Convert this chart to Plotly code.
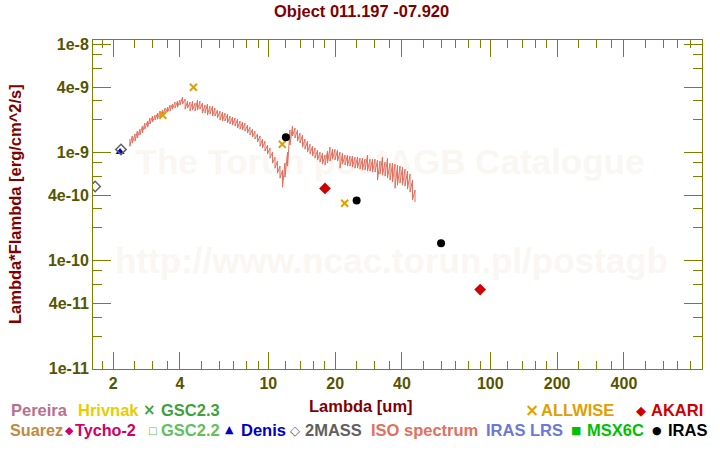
import plotly.graph_objects as go

# ---------------- data ----------------
iso_wavelength = [2.38, 2.44, 2.51, 2.57, 2.64, 2.71, 2.78, 2.86, 2.93, 3.01,
                  3.09, 3.17, 3.25, 3.34, 3.43, 3.52, 3.61, 3.70, 3.80, 3.90,
                  4.00, 4.11, 4.22, 4.33, 4.44, 4.56, 4.68, 4.80, 4.92, 5.05,
                  5.19, 5.32, 5.46, 5.61, 5.75, 5.90, 6.06, 6.22, 6.38, 6.55,
                  6.72, 6.90, 7.08, 7.27, 7.46, 7.65, 7.85, 8.06, 8.27, 8.49,
                  8.71, 8.94, 9.18, 9.42, 9.66, 9.92, 10.18, 10.45, 10.72, 11.00,
                  11.29, 11.59, 11.89, 12.21, 12.52, 12.85, 13.19, 13.54, 13.89, 14.26,
                  14.63, 15.02, 15.41, 15.82, 16.23, 16.66, 17.10, 17.55, 18.01, 18.48,
                  18.97, 19.47, 19.97, 20.50, 21.04, 21.59, 22.16, 22.74, 23.34, 23.95,
                  24.58, 25.23, 25.88, 26.57, 27.27, 27.98, 28.72, 29.47, 30.25, 31.04,
                  31.86, 32.70, 33.56, 34.44, 35.34, 36.27, 37.22, 38.20, 39.20, 40.23,
                  41.29, 42.37, 43.49, 44.63, 45.80]
# ISO spectrum noise envelope (upper / lower reading per wavelength bin),
# in units of 1e-9 erg/cm^2/s
iso_flux_high_e9 = [1.33, 1.42, 1.48, 1.57, 1.64, 1.75, 1.87, 1.95, 2.08, 2.17,
                    2.21, 2.31, 2.41, 2.46, 2.57, 2.62, 2.74, 2.80, 2.92, 2.98,
                    3.05, 3.25, 3.11, 2.98, 2.92, 2.98, 2.86, 3.05, 2.98, 2.86,
                    2.74, 2.80, 2.68, 2.68, 2.57, 2.46, 2.41, 2.36, 2.31, 2.26,
                    2.17, 2.12, 2.08, 2.03, 1.95, 1.91, 1.87, 1.79, 1.71, 1.64,
                    1.57, 1.48, 1.42, 1.33, 1.27, 1.17, 1.10, 1.006, 0.904, 0.831,
                    0.747, 0.686, 0.796, 1.006, 1.61, 1.75, 1.68, 1.61, 1.51, 1.45,
                    1.33, 1.27, 1.19, 1.14, 1.10, 1.05, 1.006, 0.985, 0.944, 1.03,
                    1.12, 1.07, 1.07, 1.05, 1.006, 0.985, 0.944, 0.944, 0.924, 0.924,
                    0.904, 0.904, 0.885, 0.885, 0.867, 0.944, 0.867, 0.867, 0.867, 0.849,
                    0.831, 0.904, 0.813, 0.885, 0.796, 0.796, 0.779, 0.763, 0.747, 0.731,
                    0.700, 0.671, 0.630, 0.554, 0.448]
iso_flux_low_e9 = [1.14, 1.22, 1.27, 1.36, 1.45, 1.51, 1.64, 1.71, 1.83, 1.91,
                   1.99, 2.03, 2.12, 2.21, 2.26, 2.36, 2.41, 2.51, 2.57, 2.62,
                   2.74, 2.80, 2.51, 2.57, 2.41, 2.46, 2.41, 2.46, 2.51, 2.31,
                   2.31, 2.21, 2.26, 2.17, 2.17, 2.08, 1.99, 1.95, 1.95, 1.87,
                   1.83, 1.79, 1.75, 1.68, 1.64, 1.61, 1.57, 1.51, 1.45, 1.39,
                   1.33, 1.25, 1.14, 1.10, 1.03, 0.964, 0.885, 0.796, 0.715, 0.643,
                   0.578, 0.477, 0.590, 0.747, 1.17, 1.42, 1.36, 1.27, 1.22, 1.12,
                   1.07, 1.006, 0.964, 0.924, 0.885, 0.849, 0.813, 0.779, 0.763, 0.796,
                   0.831, 0.867, 0.849, 0.831, 0.715, 0.779, 0.763, 0.747, 0.747, 0.731,
                   0.715, 0.715, 0.700, 0.686, 0.686, 0.671, 0.671, 0.657, 0.657, 0.554,
                   0.630, 0.616, 0.603, 0.578, 0.554, 0.531, 0.467, 0.498, 0.520, 0.498,
                   0.488, 0.457, 0.429, 0.362, 0.347]

twomass_wl = [1.66, 2.17]
twomass_flux = [4.84e-10, 1.066e-9]
denis_wl = [2.15]
denis_flux = [1.01e-9]
allwise_wl = [3.35, 4.6, 11.56, 22.08]
allwise_flux = [2.21e-9, 4.0e-9, 1.19e-9, 3.38e-10]
akari_wl = [18.0, 90.0]
akari_flux = [4.64e-10, 5.38e-11]
iras_wl = [12.0, 25.0, 60.0]
iras_flux = [1.38e-9, 3.59e-10, 1.44e-10]

x_tick_vals = [2, 4, 10, 20, 40, 100, 200, 400]
x_tick_text = ["2", "4", "10", "20", "40", "100", "200", "400"]
x_minor_vals = [1.8, 2.5, 3, 3.5, 5, 6, 7, 8, 9,
                12, 14, 16, 18, 25, 30, 35, 50, 60, 70, 80, 90,
                120, 140, 160, 180, 250, 300, 350, 500, 600, 700, 800]
y_tick_vals = [1e-8, 4e-9, 1e-9, 4e-10, 1e-10, 4e-11, 1e-11]
y_tick_text = ["1e-8", "4e-9", "1e-9", "4e-10", "1e-10", "4e-11", "1e-11"]
y_minor_vals = [8e-9, 6e-9, 3e-9, 2e-9, 8e-10, 6e-10, 3e-10, 2e-10,
                8e-11, 6e-11, 3e-11, 2e-11]

# ---------------- layout constants ----------------
W, H = 720, 450
L, R, T, B = 93, 702, 40, 369
FONT = "Liberation Sans, Arial, sans-serif"
SYMFONT = "DejaVu Sans"
OLIVE = "#808000"
LABEL = "#555500"
DARKRED = "#800000"


def px(xp):
    return (xp - L) / (R - L)


def py(yp):
    return (B - yp) / (B - T)


fig = go.Figure()

# watermark (base, hidden linear axes -> drawn beneath data)
fig.add_trace(go.Scatter(
    x=[px(390), px(391.5)], y=[py(165), py(264)], mode="text",
    text=["The Torun postAGB Catalogue", "http://www.ncac.torun.pl/postagb"],
    textfont=dict(size=35, color="rgb(250,246,242)", family=FONT, weight="bold"),
    textposition="middle center", hoverinfo="skip", showlegend=False,
    xaxis="x", yaxis="y"))

# ISO spectrum: each wavelength bin drawn as a spike from its upper to lower reading
iso_x, iso_y = [], []
for w, hi, lo in zip(iso_wavelength, iso_flux_high_e9, iso_flux_low_e9):
    iso_x += [w, w]
    iso_y += [hi * 1e-9, lo * 1e-9]
fig.add_trace(go.Scatter(x=iso_x, y=iso_y, mode="lines",
                         line=dict(color="#e07060", width=1),
                         xaxis="x2", yaxis="y2", showlegend=False))
fig.add_trace(go.Scatter(x=denis_wl, y=denis_flux, mode="markers",
                         marker=dict(symbol="triangle-up", size=8, color="#0000cc"),
                         xaxis="x2", yaxis="y2", showlegend=False))
fig.add_trace(go.Scatter(x=twomass_wl, y=twomass_flux, mode="markers",
                         marker=dict(symbol="diamond-open", size=8, color="#606060",
                                     line=dict(width=1.5, color="#606060")),
                         xaxis="x2", yaxis="y2", showlegend=False))
fig.add_trace(go.Scatter(x=allwise_wl, y=allwise_flux, mode="markers",
                         marker=dict(symbol="x-thin-open", size=7, color="#e0a000",
                                     line=dict(width=2, color="#e0a000")),
                         xaxis="x2", yaxis="y2", showlegend=False))
fig.add_trace(go.Scatter(x=akari_wl, y=akari_flux, mode="markers",
                         marker=dict(symbol="diamond", size=9, color="#d00000"),
                         xaxis="x2", yaxis="y2", showlegend=False))
fig.add_trace(go.Scatter(x=iras_wl, y=iras_flux, mode="markers",
                         marker=dict(symbol="circle", size=8, color="#000000"),
                         xaxis="x2", yaxis="y2", showlegend=False))

tickfont = dict(family=FONT, size=16, color=LABEL, weight="bold")

fig.update_layout(
    width=W, height=H,
    margin=dict(l=L, r=W - R, t=T, b=H - B, pad=0),
    paper_bgcolor="white", plot_bgcolor="white",
    showlegend=False,
    xaxis=dict(range=[0, 1], visible=False, fixedrange=True),
    yaxis=dict(range=[0, 1], visible=False, fixedrange=True),
    xaxis2=dict(
        type="log", overlaying="x", anchor="y2", side="bottom",
        range=[0.2104, 2.9536],
        showgrid=False, zeroline=False,
        showline=True, linecolor=OLIVE, linewidth=1, mirror="ticks",
        ticks="inside", ticklen=17, tickwidth=1, tickcolor=OLIVE,
        tickmode="array", tickvals=x_tick_vals, ticktext=x_tick_text,
        tickfont=tickfont,
        minor=dict(tickmode="array", tickvals=x_minor_vals, ticks="inside",
                   ticklen=8, tickwidth=1, tickcolor=OLIVE, showgrid=False),
    ),
    yaxis2=dict(
        type="log", overlaying="y", anchor="x2", side="left",
        range=[-11.004, -7.96],
        showgrid=False, zeroline=False,
        showline=True, linecolor=OLIVE, linewidth=1, mirror="ticks",
        ticks="inside", ticklen=18, tickwidth=1, tickcolor=OLIVE,
        tickmode="array", tickvals=y_tick_vals, ticktext=y_tick_text,
        tickfont=tickfont,
        minor=dict(tickmode="array", tickvals=y_minor_vals, ticks="inside",
                   ticklen=9, tickwidth=1, tickcolor=OLIVE, showgrid=False),
    ),
)

ann = []


def add_text(text, xp, yp, color, size=16.5, xanchor="left", angle=0, family=FONT):
    ann.append(dict(text=text, x=px(xp), y=py(yp), xref="paper", yref="paper",
                    xanchor=xanchor, yanchor="middle", showarrow=False,
                    textangle=angle, borderpad=0,
                    font=dict(family=family, size=size, color=color, weight="bold")))


def add_sym(sym, xp, yp, color, size):
    add_text(sym, xp, yp, color, size=size, xanchor="center", family=SYMFONT)


# title and axis titles
add_text("Object 011.197 -07.920", 361, 11, DARKRED, xanchor="center")
add_text("Lambda [um]", 361, 406, DARKRED, xanchor="center")
add_text("Lambda*Flambda [erg/cm^2/s]", 15, 204, DARKRED, xanchor="center", angle=-90)

# legend row 1
add_text("Pereira", 10, 410, "#b87090")
add_text("Hrivnak", 77, 410, "#e8cc00")
add_sym("×", 149, 410, "#40a040", 15)
add_text("GSC2.3", 160, 410, "#40a040")
add_sym("×", 532, 410, "#e0a000", 17)
add_text("ALLWISE", 540, 410, "#e0a000")
add_sym("◆", 641, 410, "#d00000", 13)
add_text("AKARI", 650, 410, "#d00000")

# legend row 2
add_text("Suarez", 9, 430, "#c08a40", size=16.2)
add_sym("◆", 69, 430, "#d0006a", 11)
add_text("Tycho-2", 74, 430, "#d0006a", size=16.2)
add_sym("□", 152, 430, "#60c060", 10)
add_text("GSC2.2", 160, 430, "#60c060")
add_sym("▲", 229, 429, "#0000cc", 11)
add_text("Denis", 240, 430, "#0000cc")
add_sym("◇", 295, 430, "#606060", 13)
add_text("2MASS", 304, 430, "#606060")
add_text("ISO spectrum", 370, 430, "#e07060")
add_text("IRAS LRS", 485, 430, "#6a78d8")
add_sym("■", 576, 430, "#00c000", 11)
add_text("MSX6C", 586, 430, "#00c000")
add_sym("●", 657, 430, "#000000", 11)
add_text("IRAS", 667, 430, "#000000")

fig.update_layout(annotations=ann)

fig.write_html("out.html")
